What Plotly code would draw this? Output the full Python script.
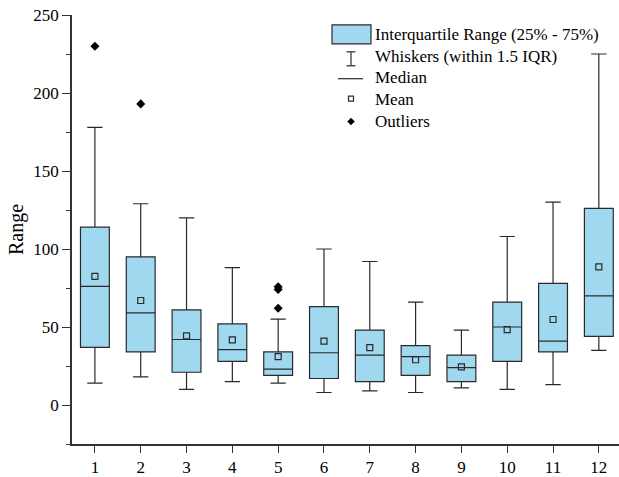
import plotly.graph_objects as go

categories = [1, 2, 3, 4, 5, 6, 7, 8, 9, 10, 11, 12]
q1 = [37, 34, 21, 28, 19, 17, 15, 19, 15, 28, 34, 44]
median = [76, 59, 42, 35.5, 23, 33.5, 32, 31, 24, 50, 41, 70]
q3 = [114, 95, 61, 52, 34, 63, 48, 38, 32, 66, 78, 126]
lower_whisker = [14, 18, 10, 15, 14, 8, 9, 8, 11, 10, 13, 35]
upper_whisker = [178, 129, 120, 88, 55, 100, 92, 66, 48, 108, 130, 225]
means = [82.5, 67, 44.3, 41.7, 31, 41, 36.8, 29, 24.5, 48.3, 54.8, 88.5]
outlier_x = [1, 2, 5, 5, 5]
outlier_y = [230, 193, 75.8, 74, 62]

y_ticks = [0, 50, 100, 150, 200, 250]
x_tick_labels = [str(c) for c in categories]

FONT = "Liberation Serif, Times New Roman, serif"
W, H = 619, 477
L, R, T, B = 72, 0, 15, 31
PW, PH = W - L - R, H - T - B
FILL = "rgb(160,216,240)"
EDGE = "#2a2a2a"


def px(x):
    return (x - L) / PW


def py(y):
    return (H - B - y) / PH


fig = go.Figure()
fig.add_trace(go.Box(
    x=categories, q1=q1, median=median, q3=q3,
    lowerfence=lower_whisker, upperfence=upper_whisker,
    boxpoints=False, width=0.63, whiskerwidth=0.53,
    fillcolor=FILL, line=dict(color=EDGE, width=1.2),
    showlegend=False, hoverinfo="skip",
))
fig.add_trace(go.Scatter(
    x=categories, y=means, mode="markers",
    marker=dict(symbol="square-open", size=6, color=EDGE, line=dict(width=1.2)),
    showlegend=False,
))
fig.add_trace(go.Scatter(
    x=outlier_x, y=outlier_y, mode="markers",
    marker=dict(symbol="diamond", size=7, color="black"),
    showlegend=False,
))

shapes = []
annotations = []
# legend: IQR box
shapes.append(dict(type="rect", xref="paper", yref="paper",
                   x0=px(332), x1=px(371), y0=py(44), y1=py(25),
                   fillcolor=FILL, line=dict(color=EDGE, width=1.2)))
# whisker icon
shapes.append(dict(type="line", xref="paper", yref="paper",
                   x0=px(351), x1=px(351), y0=py(66), y1=py(52),
                   line=dict(color=EDGE, width=1.2)))
for yy in (52, 66):
    shapes.append(dict(type="line", xref="paper", yref="paper",
                       x0=px(346.5), x1=px(355.5), y0=py(yy), y1=py(yy),
                       line=dict(color=EDGE, width=1.2)))
# median icon
shapes.append(dict(type="line", xref="paper", yref="paper",
                   x0=px(338), x1=px(363), y0=py(79), y1=py(79),
                   line=dict(color=EDGE, width=1.2)))
# mean icon
shapes.append(dict(type="rect", xref="paper", yref="paper",
                   x0=px(348.5), x1=px(353.5), y0=py(101.5), y1=py(96.5),
                   line=dict(color=EDGE, width=1.2)))
# outlier icon (diamond)
cx, cy, r = 351, 122, 3.5
path = "M {} {} L {} {} L {} {} L {} {} Z".format(
    px(cx), py(cy - r), px(cx + r), py(cy), px(cx), py(cy + r), px(cx - r), py(cy))
shapes.append(dict(type="path", xref="paper", yref="paper", path=path,
                   fillcolor="black", line=dict(color="black", width=0.5)))

legend_labels = ["Interquartile Range (25% - 75%)", "Whiskers (within 1.5 IQR)",
                 "Median", "Mean", "Outliers"]
legend_rows = [35, 57, 78, 100, 122]
for lab, yy in zip(legend_labels, legend_rows):
    annotations.append(dict(text=lab, xref="paper", yref="paper",
                            x=px(373), y=py(yy), xanchor="left", yanchor="middle",
                            showarrow=False, font=dict(family=FONT, size=17, color="black")))

fig.update_layout(
    width=W, height=H,
    margin=dict(l=L, r=R, t=T, b=B),
    paper_bgcolor="white", plot_bgcolor="white",
    font=dict(family=FONT, size=17, color="black"),
    shapes=shapes, annotations=annotations,
    xaxis=dict(range=[0.5, 12.44], tickmode="array", tickvals=categories,
               ticktext=x_tick_labels, ticks="outside", ticklen=7, tickwidth=1.2,
               tickcolor="#333", showline=True, linecolor="#333", linewidth=1.8,
               showgrid=False, zeroline=False, tickfont=dict(size=17)),
    yaxis=dict(range=[-25, 250], tickmode="array", tickvals=y_ticks,
               ticks="outside", ticklen=8, tickwidth=1.2, tickcolor="#333",
               showline=True, linecolor="#333", linewidth=1.8,
               showgrid=False, zeroline=False, tickfont=dict(size=17),
               minor=dict(tickvals=[-25, 25, 75, 125, 175, 225], ticks="outside",
                          ticklen=4, tickwidth=1.2, tickcolor="#333"),
               title=dict(text="Range", font=dict(size=20), standoff=4)),
)

fig.write_html("out.html")
